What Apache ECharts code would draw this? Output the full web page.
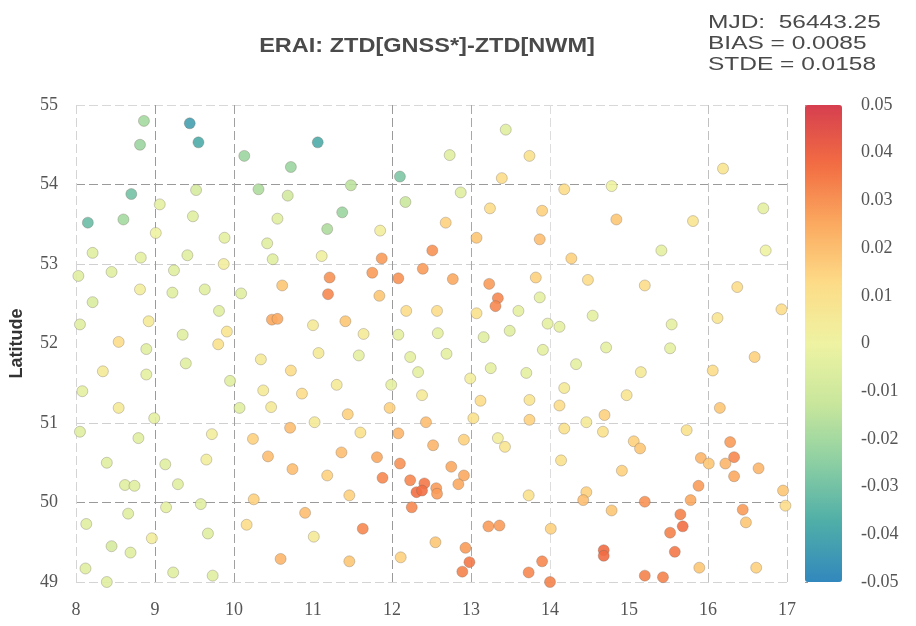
<!DOCTYPE html>
<html>
<head>
<meta charset="utf-8">
<script src="https://cdn.jsdelivr.net/npm/echarts@6/dist/echarts.min.js"></script>
<style>
html,body{margin:0;padding:0;background:#fff;}
#chart{width:916px;height:626px;}
</style>
</head>
<body>
<div id="chart"></div>
<script>
// Station longitudes (deg E)
var lon = [
 8.86, 9.44, 8.81, 9.55, 10.13, 10.72, 8.70, 9.52, 10.31, 10.68, 9.06, 8.15, 8.60, 9.48, 10.55, 9.01, 9.88, 10.42, 8.21, 8.82, 9.41, 10.49, 9.87,
 11.06, 12.73, 13.44, 13.74, 12.10, 13.39, 11.48, 12.87, 12.17, 11.37, 13.24, 13.90, 11.18, 11.85, 12.68, 13.07, 13.87, 11.11, 11.87, 12.51,
 16.19, 14.18, 14.78, 14.84, 15.81, 16.70, 15.41, 16.73, 14.27,
 8.03, 8.45, 9.24, 8.81, 9.22, 9.63, 10.09, 10.61, 8.21, 9.81, 10.48, 10.55, 8.05, 8.92, 9.91, 9.35, 8.54, 8.89, 9.80, 9.39, 10.34, 10.72, 8.34, 8.89, 9.95, 8.08, 10.37, 10.86, 8.54, 10.07, 10.47, 8.99,
 11.21, 11.19, 11.75, 12.39, 12.08, 12.77, 11.84, 13.23, 13.82, 13.34, 13.31, 13.87, 12.18, 12.57, 13.07, 13.60, 13.97, 11.41, 11.00, 11.64, 12.08, 12.58, 13.16, 13.49, 11.07, 11.58, 12.23, 12.69, 13.91, 12.33, 13.25, 13.70, 11.30, 11.99, 12.99, 12.38, 13.12, 13.74, 11.44, 11.97, 11.02, 12.43, 13.03, 13.74,
 14.48, 15.20, 16.37, 14.54, 14.12, 15.54, 16.12, 16.93, 14.71, 15.52, 16.59, 14.33, 15.15, 16.06, 14.18, 14.97, 14.12, 16.15, 14.69, 14.46,
 8.05, 8.79, 9.72, 10.24, 10.71, 8.39, 9.13, 9.65, 10.43, 10.74, 8.62, 8.74, 9.29, 10.25, 9.58, 9.14, 8.66, 10.90, 8.13, 10.16, 9.67, 8.96, 8.45, 8.69, 10.59, 8.12, 9.23, 9.73, 8.39,
 11.60, 12.08, 12.91, 12.52, 13.34, 13.43, 11.36, 11.81, 12.10, 12.75, 11.18, 11.88, 12.23, 12.41, 12.91, 12.84, 12.31, 12.38, 12.56, 12.57, 11.46, 13.73, 12.25, 11.63, 11.01, 13.22, 13.36, 12.55, 11.46, 12.11, 12.93, 12.98, 12.89, 13.90, 13.73,
 15.73, 14.18, 14.67, 15.06, 15.14, 14.14, 14.91, 16.28, 15.91, 16.01, 16.22, 16.33, 16.33, 16.64, 15.88, 14.46, 14.42, 15.20, 15.78, 14.78, 16.95, 16.98, 16.44, 16.48, 15.65, 15.68, 15.52, 14.01, 14.68, 14.68, 15.58, 15.89, 16.61, 14.00, 15.20, 15.43
];
// Station latitudes (deg N)
var lat = [
 54.80, 54.77, 54.50, 54.53, 54.36, 54.22, 53.88, 53.93, 53.94, 53.86, 53.75, 53.52, 53.56, 53.60, 53.57, 53.39, 53.33, 53.26, 53.14, 53.08, 53.11, 53.06, 53.00,
 54.53, 54.37, 54.69, 54.36, 54.10, 54.08, 53.99, 53.90, 53.78, 53.65, 53.70, 53.67, 53.44, 53.42, 53.52, 53.33, 53.31, 53.10, 53.07, 53.17,
 54.20, 53.94, 53.98, 53.56, 53.54, 53.70, 53.17, 53.17, 53.07,
 52.85, 52.90, 52.92, 52.68, 52.64, 52.68, 52.63, 52.73, 52.52, 52.41, 52.30, 52.31, 52.24, 52.28, 52.15, 52.11, 52.02, 51.93, 51.99, 51.75, 51.80, 51.66, 51.65, 51.61, 51.53, 51.40, 51.41, 51.37, 51.19, 51.19, 51.20, 51.06,
 52.83, 52.62, 52.89, 52.94, 52.82, 52.81, 52.60, 52.75, 52.83, 52.57, 52.47, 52.58, 52.41, 52.41, 52.38, 52.41, 52.25, 52.28, 52.23, 52.12, 52.11, 52.13, 52.08, 52.16, 51.88, 51.85, 51.83, 51.87, 51.92, 51.64, 51.69, 51.63, 51.48, 51.48, 51.56, 51.35, 51.28, 51.29, 51.11, 51.19, 51.01, 51.01, 51.06, 51.04,
 52.80, 52.73, 52.71, 52.35, 52.21, 52.24, 52.32, 52.43, 51.95, 51.94, 51.83, 51.74, 51.64, 51.66, 51.44, 51.35, 51.22, 51.19, 51.10, 51.01,
 50.89, 50.81, 50.86, 50.80, 50.94, 50.50, 50.48, 50.54, 50.58, 50.42, 50.22, 50.21, 50.23, 50.04, 49.98, 49.94, 49.86, 49.87, 49.73, 49.72, 49.61, 49.55, 49.45, 49.37, 49.29, 49.17, 49.12, 49.08, 49.00,
 50.88, 50.87, 50.79, 50.72, 50.81, 50.70, 50.63, 50.57, 50.49, 50.45, 50.34, 50.31, 50.28, 50.24, 50.34, 50.23, 50.13, 50.15, 50.18, 50.11, 50.09, 50.09, 49.94, 49.67, 49.57, 49.70, 49.71, 49.50, 49.26, 49.31, 49.43, 49.25, 49.13, 49.26, 49.12,
 50.91, 50.93, 50.89, 50.77, 50.68, 50.53, 50.40, 50.76, 50.56, 50.49, 50.49, 50.57, 50.33, 50.43, 50.21, 50.13, 50.03, 50.01, 50.03, 49.90, 50.15, 49.96, 49.91, 49.75, 49.85, 49.70, 49.62, 49.67, 49.40, 49.33, 49.38, 49.18, 49.18, 49.00, 49.08, 49.06
];
// ZTD[GNSS*] - ZTD[NWM] (m)
var dztd = [
 -0.020, -0.042, -0.022, -0.038, -0.022, -0.022, -0.030, -0.008, -0.018, -0.010, -0.003, -0.032, -0.020, -0.005, -0.005, 0.000, -0.003, -0.005, -0.005, -0.003, -0.005, -0.005, 0.003,
 -0.038, -0.005, -0.005, 0.010, -0.028, 0.012, -0.015, -0.005, -0.012, -0.022, 0.012, 0.015, -0.018, 0.003, 0.015, 0.018, 0.020, 0.002, 0.028, 0.030,
 0.008, 0.012, 0.000, 0.018, 0.008, -0.003, -0.003, 0.000, 0.015,
 -0.005, -0.005, -0.005, 0.003, -0.005, -0.005, -0.005, 0.018, -0.007, -0.005, 0.025, 0.025, -0.005, 0.005, 0.008, -0.005, 0.012, -0.005, 0.010, -0.005, 0.005, 0.012, 0.005, -0.003, -0.005, -0.003, 0.005, 0.012, 0.005, -0.005, 0.005, -0.003,
 0.030, 0.032, 0.028, 0.028, 0.030, 0.025, 0.018, 0.028, 0.015, 0.032, 0.032, -0.003, 0.012, 0.012, 0.010, -0.003, -0.003, 0.018, 0.005, 0.005, -0.003, -0.003, -0.005, -0.005, 0.005, -0.003, -0.003, -0.003, -0.003, -0.003, -0.003, -0.003, 0.005, -0.003, 0.003, 0.005, 0.012, 0.008, 0.015, 0.015, 0.005, 0.020, 0.010, 0.015,
 0.012, 0.012, 0.012, -0.003, -0.003, -0.003, 0.008, 0.012, -0.003, -0.003, 0.015, -0.003, 0.005, 0.012, 0.005, 0.008, 0.012, 0.018, 0.015, 0.005,
 -0.005, -0.005, 0.003, 0.015, 0.020, -0.005, -0.005, 0.003, 0.020, 0.020, -0.005, -0.005, -0.005, 0.015, -0.005, -0.003, -0.005, 0.020, -0.005, 0.012, -0.005, 0.003, -0.008, -0.005, 0.022, -0.005, -0.005, -0.005, -0.005,
 0.010, 0.022, 0.015, 0.022, 0.003, 0.008, 0.020, 0.025, 0.030, 0.025, 0.015, 0.032, 0.032, 0.035, 0.025, 0.025, 0.037, 0.037, 0.028, 0.028, 0.015, 0.010, 0.032, 0.032, 0.005, 0.028, 0.028, 0.018, 0.018, 0.015, 0.028, 0.035, 0.033, 0.032, 0.032,
 0.010, 0.010, 0.010, 0.015, 0.018, 0.010, 0.015, 0.028, 0.022, 0.018, 0.022, 0.032, 0.025, 0.022, 0.028, 0.015, 0.020, 0.030, 0.025, 0.018, 0.018, 0.012, 0.028, 0.018, 0.033, 0.037, 0.033, 0.015, 0.038, 0.038, 0.035, 0.018, 0.015, 0.033, 0.033, 0.033
];
var titleText = 'ERAI: ZTD[GNSS*]-ZTD[NWM]';
var statLines = ['MJD:  56443.25', 'BIAS = 0.0085', 'STDE = 0.0158'];
var lonRange = [8, 17];
var latRange = [49, 55];
var cbarRange = [-0.05, 0.05];
var colorStops = ['#3288bd', '#4faea8', '#8ccfa3', '#c9e79c', '#eef3a2', '#fddc88', '#fbaa60', '#f26d43', '#d63f4f'];

var points = lon.map(function (x, i) { return [x, lat[i], dztd[i]]; });

var chart = echarts.init(document.getElementById('chart'), null, { renderer: 'canvas' });
var serif = '"Liberation Serif", "Times New Roman", serif';
var sans = '"Liberation Sans", Arial, sans-serif';
var lab = '#555';

chart.setOption({
  backgroundColor: '#fff',
  animation: false,
  grid: [
    { left: 73, top: 105, width: 714, height: 477 },
    { left: 805, top: 105, width: 37, height: 477 }
  ],
  xAxis: [{
    type: 'value', min: lonRange[0], max: lonRange[1], interval: 1,
    axisLine: { show: false }, axisTick: { show: false },
    axisLabel: { color: lab, fontFamily: serif, fontSize: 18, margin: 19 },
    splitLine: { show: true, lineStyle: { type: [9, 4], width: 1,
      color: ['#d4d4d4', '#9a9a9a', '#a0a0a0', 'rgba(0,0,0,0)', '#9a9a9a', '#a8a8a8', '#dddddd', 'rgba(0,0,0,0)', '#c0c0c0', '#c8c8c8'] } }
  }, {
    gridIndex: 1, type: 'value', min: 0, max: 1, show: false
  }],
  yAxis: [{
    type: 'value', min: latRange[0], max: latRange[1], interval: 1,
    name: 'Latitude', nameLocation: 'middle', nameGap: 50,
    nameTextStyle: { color: '#333', fontFamily: sans, fontWeight: 'bold', fontSize: 18 },
    axisLine: { show: false }, axisTick: { show: false },
    axisLabel: { color: lab, fontFamily: serif, fontSize: 18, margin: 18 },
    splitLine: { show: true, lineStyle: { type: [9, 4], width: 1,
      color: ['#d4d4d4', '#9a9a9a', '#d0d0d0', 'rgba(0,0,0,0)', '#d0d0d0', '#9a9a9a', '#d8d8d8'] } }
  }, {
    gridIndex: 1, type: 'value', min: cbarRange[0], max: cbarRange[1], interval: 0.01,
    position: 'right',
    axisLine: { show: false },
    axisTick: { show: true, length: 3, lineStyle: { color: '#999' } },
    splitLine: { show: false },
    axisLabel: { color: lab, fontFamily: serif, fontSize: 18, margin: 19 }
  }],
  visualMap: {
    type: 'continuous', min: cbarRange[0], max: cbarRange[1], dimension: 2, seriesIndex: 0,
    orient: 'vertical', left: 805, top: 105, itemWidth: 37, itemHeight: 477,
    padding: 0, calculable: false, hoverLink: false, showLabel: false,
    inRange: { color: colorStops }
  },
  graphic: [
    { type: 'text', x: 427, y: 46, scaleX: 1.12, style: { text: titleText, fill: '#4a4a4a', font: 'bold 21px ' + sans, textAlign: 'center', textVerticalAlign: 'middle' } },
    { type: 'text', x: 708, y: 13, scaleX: 1.36, style: { text: statLines.join('\n'), fill: '#4a4a4a', font: '18px ' + sans, lineHeight: 21 } }
  ],
  series: [{
    type: 'scatter', xAxisIndex: 0, yAxisIndex: 0, data: points,
    symbol: 'circle', symbolSize: 11,
    itemStyle: { opacity: 0.9, borderColor: 'rgba(110,100,90,0.35)', borderWidth: 1 }
  }, {
    type: 'scatter', xAxisIndex: 1, yAxisIndex: 1, data: []
  }]
});
</script>
</body>
</html>
